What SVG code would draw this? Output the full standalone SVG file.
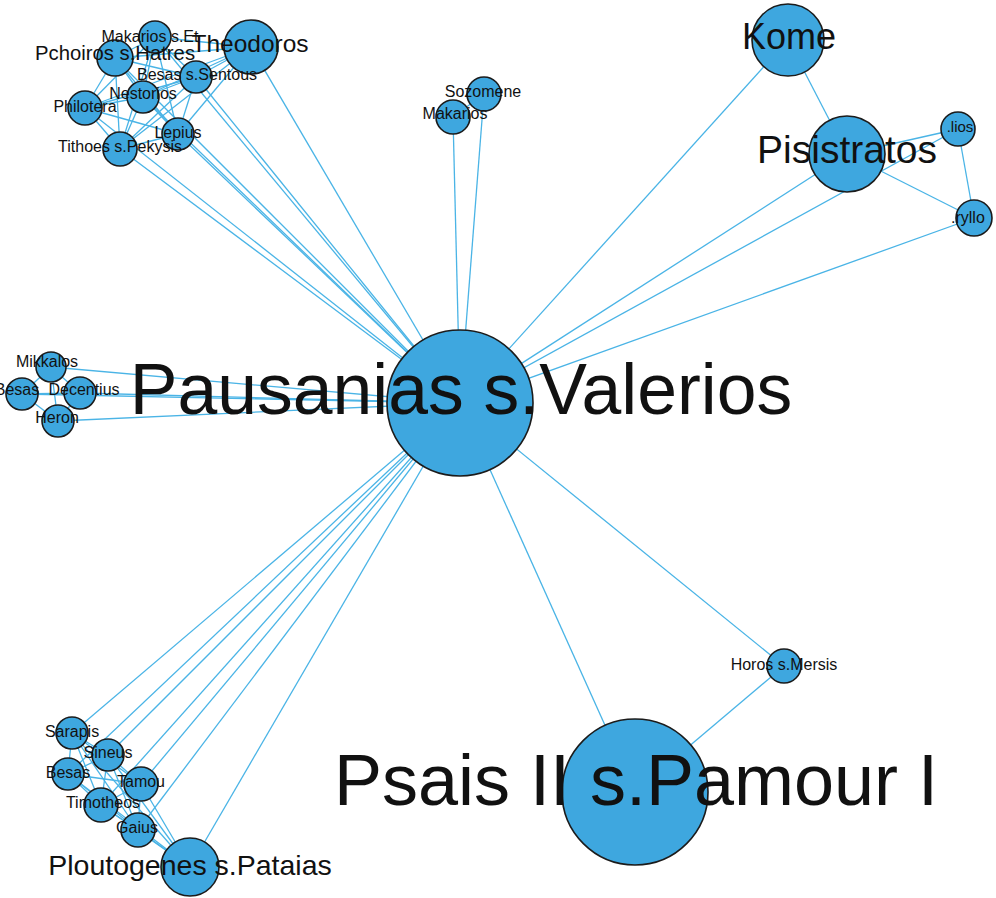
<svg xmlns="http://www.w3.org/2000/svg" width="996" height="898" viewBox="0 0 996 898">
<style>
.e{stroke:#4AB4E6;stroke-width:1.3;fill:none}
.n{fill:#3EA7DF;stroke:#1b1b1b;stroke-width:1.6}
text{font-family:"Liberation Sans",Arial,sans-serif;fill:#111;text-anchor:middle}
.s{font-size:16px}
</style>
<rect width="996" height="898" fill="#ffffff"/>
<g id="edges">
<line class="e" x1="460" y1="403" x2="251" y2="47"/>
<line class="e" x1="460" y1="403" x2="115" y2="58"/>
<line class="e" x1="460" y1="403" x2="155" y2="37"/>
<line class="e" x1="460" y1="403" x2="196" y2="77"/>
<line class="e" x1="460" y1="403" x2="143" y2="97"/>
<line class="e" x1="460" y1="403" x2="85" y2="108"/>
<line class="e" x1="460" y1="403" x2="178" y2="134"/>
<line class="e" x1="460" y1="403" x2="120" y2="149"/>
<line class="e" x1="460" y1="403" x2="484" y2="94"/>
<line class="e" x1="460" y1="403" x2="453" y2="117"/>
<line class="e" x1="460" y1="403" x2="788" y2="40"/>
<line class="e" x1="460" y1="403" x2="847" y2="154"/>
<line class="e" x1="460" y1="403" x2="958" y2="129"/>
<line class="e" x1="460" y1="403" x2="974" y2="218"/>
<line class="e" x1="460" y1="403" x2="51" y2="367"/>
<line class="e" x1="460" y1="403" x2="22" y2="394"/>
<line class="e" x1="460" y1="403" x2="80" y2="393"/>
<line class="e" x1="460" y1="403" x2="58" y2="421"/>
<line class="e" x1="460" y1="403" x2="72" y2="733"/>
<line class="e" x1="460" y1="403" x2="108" y2="755"/>
<line class="e" x1="460" y1="403" x2="68" y2="774"/>
<line class="e" x1="460" y1="403" x2="141" y2="784"/>
<line class="e" x1="460" y1="403" x2="101" y2="805"/>
<line class="e" x1="460" y1="403" x2="138" y2="830"/>
<line class="e" x1="460" y1="403" x2="190" y2="867"/>
<line class="e" x1="460" y1="403" x2="635" y2="792"/>
<line class="e" x1="460" y1="403" x2="784" y2="666"/>
<line class="e" x1="251" y1="47" x2="115" y2="58"/>
<line class="e" x1="251" y1="47" x2="155" y2="37"/>
<line class="e" x1="251" y1="47" x2="196" y2="77"/>
<line class="e" x1="251" y1="47" x2="143" y2="97"/>
<line class="e" x1="251" y1="47" x2="85" y2="108"/>
<line class="e" x1="251" y1="47" x2="178" y2="134"/>
<line class="e" x1="251" y1="47" x2="120" y2="149"/>
<line class="e" x1="115" y1="58" x2="155" y2="37"/>
<line class="e" x1="115" y1="58" x2="196" y2="77"/>
<line class="e" x1="115" y1="58" x2="143" y2="97"/>
<line class="e" x1="115" y1="58" x2="85" y2="108"/>
<line class="e" x1="115" y1="58" x2="178" y2="134"/>
<line class="e" x1="115" y1="58" x2="120" y2="149"/>
<line class="e" x1="155" y1="37" x2="196" y2="77"/>
<line class="e" x1="155" y1="37" x2="143" y2="97"/>
<line class="e" x1="155" y1="37" x2="85" y2="108"/>
<line class="e" x1="155" y1="37" x2="178" y2="134"/>
<line class="e" x1="155" y1="37" x2="120" y2="149"/>
<line class="e" x1="196" y1="77" x2="143" y2="97"/>
<line class="e" x1="196" y1="77" x2="85" y2="108"/>
<line class="e" x1="196" y1="77" x2="178" y2="134"/>
<line class="e" x1="196" y1="77" x2="120" y2="149"/>
<line class="e" x1="143" y1="97" x2="85" y2="108"/>
<line class="e" x1="143" y1="97" x2="178" y2="134"/>
<line class="e" x1="143" y1="97" x2="120" y2="149"/>
<line class="e" x1="85" y1="108" x2="178" y2="134"/>
<line class="e" x1="85" y1="108" x2="120" y2="149"/>
<line class="e" x1="178" y1="134" x2="120" y2="149"/>
<line class="e" x1="484" y1="94" x2="453" y2="117"/>
<line class="e" x1="788" y1="40" x2="847" y2="154"/>
<line class="e" x1="847" y1="154" x2="958" y2="129"/>
<line class="e" x1="847" y1="154" x2="974" y2="218"/>
<line class="e" x1="958" y1="129" x2="974" y2="218"/>
<line class="e" x1="51" y1="367" x2="22" y2="394"/>
<line class="e" x1="51" y1="367" x2="80" y2="393"/>
<line class="e" x1="51" y1="367" x2="58" y2="421"/>
<line class="e" x1="22" y1="394" x2="80" y2="393"/>
<line class="e" x1="22" y1="394" x2="58" y2="421"/>
<line class="e" x1="80" y1="393" x2="58" y2="421"/>
<line class="e" x1="72" y1="733" x2="108" y2="755"/>
<line class="e" x1="72" y1="733" x2="68" y2="774"/>
<line class="e" x1="72" y1="733" x2="141" y2="784"/>
<line class="e" x1="72" y1="733" x2="101" y2="805"/>
<line class="e" x1="72" y1="733" x2="138" y2="830"/>
<line class="e" x1="72" y1="733" x2="190" y2="867"/>
<line class="e" x1="108" y1="755" x2="68" y2="774"/>
<line class="e" x1="108" y1="755" x2="141" y2="784"/>
<line class="e" x1="108" y1="755" x2="101" y2="805"/>
<line class="e" x1="108" y1="755" x2="138" y2="830"/>
<line class="e" x1="108" y1="755" x2="190" y2="867"/>
<line class="e" x1="68" y1="774" x2="141" y2="784"/>
<line class="e" x1="68" y1="774" x2="101" y2="805"/>
<line class="e" x1="68" y1="774" x2="138" y2="830"/>
<line class="e" x1="68" y1="774" x2="190" y2="867"/>
<line class="e" x1="141" y1="784" x2="101" y2="805"/>
<line class="e" x1="141" y1="784" x2="138" y2="830"/>
<line class="e" x1="141" y1="784" x2="190" y2="867"/>
<line class="e" x1="101" y1="805" x2="138" y2="830"/>
<line class="e" x1="101" y1="805" x2="190" y2="867"/>
<line class="e" x1="138" y1="830" x2="190" y2="867"/>
<line class="e" x1="784" y1="666" x2="635" y2="792"/>
</g>
<g id="nodes">
<g id="node-pausanias"><circle class="n" cx="460" cy="403" r="73"/></g>
<g id="node-psais"><circle class="n" cx="635" cy="792" r="73"/></g>
<g id="node-theodoros"><circle class="n" cx="251" cy="47" r="27"/></g>
<g id="node-pchoiros"><circle class="n" cx="115" cy="58" r="18"/></g>
<g id="node-makarios-et"><circle class="n" cx="155" cy="37" r="16"/></g>
<g id="node-besas-sentous"><circle class="n" cx="196" cy="77" r="16"/></g>
<g id="node-nestorios"><circle class="n" cx="143" cy="97" r="16"/></g>
<g id="node-philotera"><circle class="n" cx="85" cy="108" r="17"/></g>
<g id="node-lepius"><circle class="n" cx="178" cy="134" r="16"/></g>
<g id="node-tithoes"><circle class="n" cx="120" cy="149" r="17"/></g>
<g id="node-sozomene"><circle class="n" cx="484" cy="94" r="17"/></g>
<g id="node-makarios"><circle class="n" cx="453" cy="117" r="17"/></g>
<g id="node-kome"><circle class="n" cx="788" cy="40" r="36"/></g>
<g id="node-pisistratos"><circle class="n" cx="847" cy="154" r="38"/></g>
<g id="node-lios"><circle class="n" cx="958" cy="129" r="17"/></g>
<g id="node-ryllo"><circle class="n" cx="974" cy="218" r="18"/></g>
<g id="node-mikkalos"><circle class="n" cx="51" cy="367" r="15"/></g>
<g id="node-besas-left"><circle class="n" cx="22" cy="394" r="16"/></g>
<g id="node-decentius"><circle class="n" cx="80" cy="393" r="16"/></g>
<g id="node-heron"><circle class="n" cx="58" cy="421" r="16"/></g>
<g id="node-sarapis"><circle class="n" cx="72" cy="733" r="16"/></g>
<g id="node-sineus"><circle class="n" cx="108" cy="755" r="16"/></g>
<g id="node-besas-bottom"><circle class="n" cx="68" cy="774" r="16"/></g>
<g id="node-tamou"><circle class="n" cx="141" cy="784" r="17"/></g>
<g id="node-timotheos"><circle class="n" cx="101" cy="805" r="17"/></g>
<g id="node-gaius"><circle class="n" cx="138" cy="830" r="17"/></g>
<g id="node-ploutogenes"><circle class="n" cx="190" cy="867" r="29"/></g>
<g id="node-horos"><circle class="n" cx="784" cy="666" r="17"/></g>
</g>
<g id="labels">
<text x="461" y="414" style="font-size:71.5px">Pausanias s.Valerios</text>
<text x="636" y="805" style="font-size:72px">Psais II s.Pamour I</text>
<text x="250" y="52" style="font-size:24.5px">Theodoros</text>
<text x="115" y="60" style="font-size:20.3px">Pchoiros s.Hatres</text>
<text class="s" x="150" y="42">Makarios s.Et</text>
<text class="s" x="197" y="80">Besas s.Sentous</text>
<text class="s" x="143" y="99">Nestorios</text>
<text class="s" x="85" y="112">Philotera</text>
<text class="s" x="178" y="138">Lepius</text>
<text class="s" x="120" y="152">Tithoes s.Pekysis</text>
<text class="s" x="483" y="97">Sozomene</text>
<text class="s" x="455" y="119">Makarios</text>
<text x="789" y="49" style="font-size:36px">Kome</text>
<text x="847" y="163" style="font-size:39px">Pisistratos</text>
<text x="960" y="132" style="font-size:15px">.lios</text>
<text x="951" y="223" style="font-size:16px;text-anchor:start">.ryllo</text>
<text class="s" x="47" y="367">Mikkalos</text>
<text class="s" x="17" y="395">Besas</text>
<text class="s" x="84" y="395">Decentius</text>
<text class="s" x="57" y="423">Heron</text>
<text class="s" x="72" y="737">Sarapis</text>
<text class="s" x="108" y="758">Sineus</text>
<text class="s" x="68" y="778">Besas</text>
<text class="s" x="141" y="787">Tamou</text>
<text class="s" x="103" y="808">Timotheos</text>
<text class="s" x="137" y="833">Gaius</text>
<text x="190" y="875" style="font-size:28.5px">Ploutogenes s.Pataias</text>
<text class="s" x="784" y="670">Horos s.Mersis</text>
</g>
</svg>
